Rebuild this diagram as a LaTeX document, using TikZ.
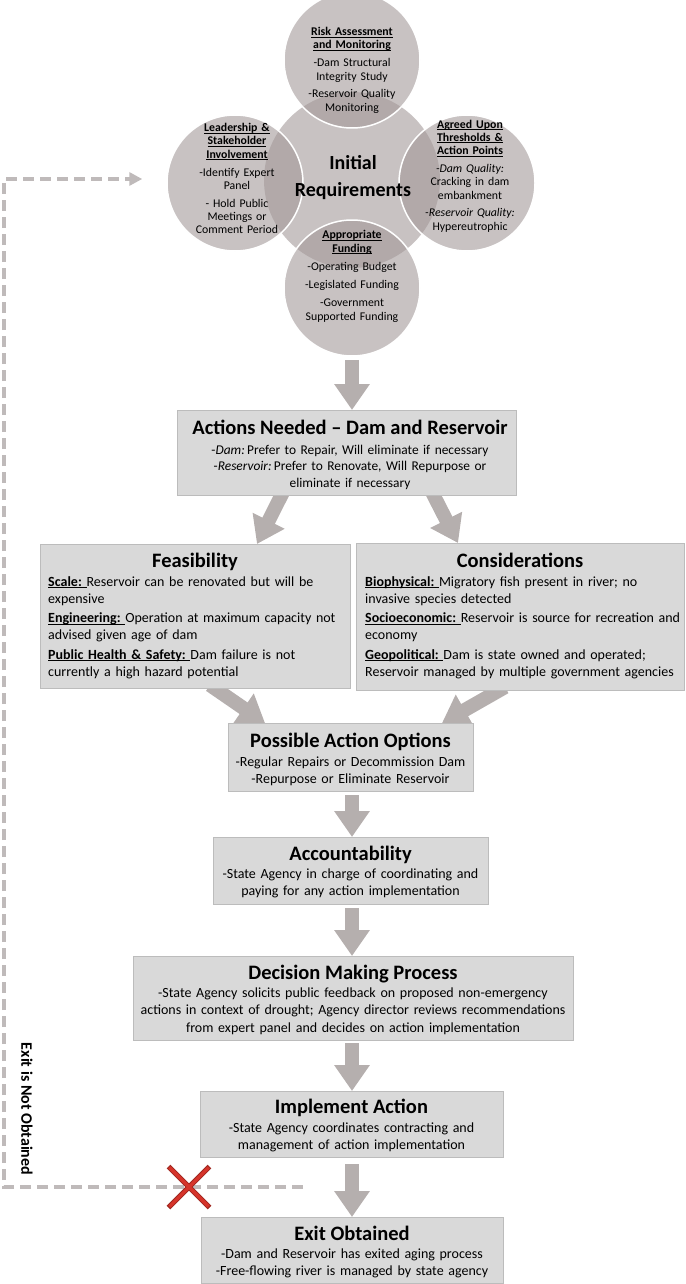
\documentclass[tikz,border=0pt]{standalone}
\usepackage{fontspec}
\setmainfont{Carlito}
\usetikzlibrary{arrows.meta,calc,backgrounds,shapes.misc}
\definecolor{boxfill}{RGB}{217,217,217}
\definecolor{boxline}{RGB}{188,188,188}
\definecolor{arrowgray}{RGB}{181,175,174}
\definecolor{circfill}{RGB}{163,153,153}
\definecolor{dashgray}{RGB}{191,186,186}
\definecolor{xred}{RGB}{214,52,42}
\definecolor{xdark}{RGB}{160,40,32}
\newcommand\mybody{\fontsize{14}{17.2}\selectfont}
\newcommand\myactbody{\fontsize{13.4}{16.5}\selectfont}
\newcommand\mytitle{\fontsize{20.5}{24}\selectfont\bfseries}
\newcommand\mycirc{\fontsize{11.8}{13.3}\selectfont}
\newcommand\ulb[1]{\leavevmode{\setbox0\hbox{\textbf{#1}}\rlap{\rule[-1.8pt]{\wd0}{0.8pt}}\box0}}
\begin{document}
\begin{tikzpicture}[x=1pt,y=-1pt,
  boxnode/.style={draw=boxline, fill=boxfill, line width=1.1pt, inner sep=0pt, anchor=north west},
  boxtitle/.style={inner sep=0pt, anchor=base, font=\mytitle},
  boxbody/.style={inner sep=0pt, anchor=base, text width=500pt, align=center, font=\mybody},
  leftbody/.style={inner sep=0pt, anchor=base west, text width=400pt, align=left, font=\mybody},
  circtext/.style={inner sep=0pt, anchor=base, text width=160pt, align=center, font=\mycirc},
  sat/.style={circle, minimum size=136pt, inner sep=0pt, fill=circfill, fill opacity=0.6, draw=white, line width=1.5pt},
  bigarrow/.style={draw=arrowgray, line width=14pt, -{Triangle[length=26pt,width=34pt]}},
  fbline/.style={draw=dashgray, line width=4pt, dash pattern=on 11pt off 6pt, -{Triangle[length=13pt,width=13pt]}},
]
\useasboundingbox (0,0) rectangle (685,1284);

% ---------- circles ----------
\node[circle, minimum size=176pt, inner sep=0pt, fill=circfill, fill opacity=0.6] (init) at (352,180) {};
\node[sat] (risk) at (352,60) {};
\node[sat] (lead) at (235,183) {};
\node[sat] (thr)  at (467,183) {};
\node[sat] (fund) at (352,288) {};

\node[inner sep=0pt, anchor=base, text width=200pt, align=center, font=\fontsize{20}{27}\selectfont\bfseries] (initt) at (353,169.8) {Initial\\ Requirements};
\node[circtext] (riskt) at (352,35.7) {\ulb{Risk Assessment}\\ \ulb{and Monitoring}\\[4.5pt] -Dam Structural\\ Integrity Study\\[4.5pt] -Reservoir Quality\\ Monitoring};
\node[circtext] (leadt) at (237,131.7) {\ulb{Leadership \&}\\ \ulb{Stakeholder}\\ \ulb{Involvement}\\[4.5pt] -Identify Expert\\ Panel\\[4.5pt] - Hold Public\\ Meetings or\\ Comment Period};
\node[circtext] (thrt) at (470,128.2) {\ulb{Agreed Upon}\\ \ulb{Thresholds \&}\\ \ulb{Action Points}\\[4.5pt] \textit{-Dam Quality:}\\ Cracking in dam\\ embankment\\[4.5pt] \textit{-Reservoir Quality:}\\ Hypereutrophic};
\node[circtext] (fundt) at (352,238.7) {\ulb{Appropriate}\\ \ulb{Funding}\\[5pt] -Operating Budget\\[5pt] -Legislated Funding\\[5pt] -Government\\ Supported Funding};

% ---------- boxes ----------
\node[boxnode, minimum width=339pt, minimum height=85pt] (act) at (177,410) {};
\node[boxnode, minimum width=310pt, minimum height=144pt] (feas) at (40,544) {};
\node[boxnode, minimum width=328pt, minimum height=147pt] (cons) at (356,543) {};
\node[boxnode, minimum width=245pt, minimum height=68pt] (poss) at (228,723) {};
\node[boxnode, minimum width=275pt, minimum height=67pt] (acc) at (213,837) {};
\node[boxnode, minimum width=440pt, minimum height=84pt] (dec) at (133,956) {};
\node[boxnode, minimum width=303pt, minimum height=66pt] (impl) at (200,1091) {};
\node[boxnode, minimum width=302pt, minimum height=66pt] (exitb) at (201,1217) {};

\node[boxtitle] (actt) at (350,434) {Actions Needed -- Dam and Reservoir};
\node[boxbody, font=\myactbody] (actb) at (350,454.3) {-\textit{Dam:}\,Prefer to Repair, Will eliminate if necessary\\ -\textit{Reservoir:}\,Prefer to Renovate, Will Repurpose or\\ eliminate if necessary};

\node[boxtitle] (feast) at (195,567.5) {Feasibility};
\node[leftbody] (feasb) at (48,586) {\ulb{Scale:~}Reservoir can be renovated but will be\\ expensive\\[2.2pt] \ulb{Engineering:~}Operation at maximum capacity not\\ advised given age of dam\\[2.2pt] \ulb{Public Health \& Safety:~}Dam failure is not\\ currently a high hazard potential};

\node[boxtitle] (const) at (520,567.5) {Considerations};
\node[leftbody] (consb) at (365,586) {\ulb{Biophysical:~}Migratory fish present in river; no\\ invasive species detected\\[2.2pt] \ulb{Socioeconomic:~}Reservoir is source for recreation and\\ economy\\[2.2pt] \ulb{Geopolitical:~}Dam is state owned and operated;\\ Reservoir managed by multiple government agencies};

\node[boxtitle] (posst) at (350.5,747.3) {Possible Action Options};
\node[boxbody] (possb) at (350.5,766) {-Regular Repairs or Decommission Dam\\ -Repurpose or Eliminate Reservoir};

\node[boxtitle] (acct) at (350.5,860.5) {Accountability};
\node[boxbody] (accb) at (350.5,878.3) {-State Agency in charge of coordinating and\\ paying for any action implementation};

\node[boxtitle] (dect) at (353,979) {Decision Making Process};
\node[boxbody] (decb) at (353,997.6) {-State Agency solicits public feedback on proposed non-emergency\\ actions in context of drought; Agency director reviews recommendations\\ from expert panel and decides on action implementation};

\node[boxtitle] (implt) at (351.5,1113.7) {Implement Action};
\node[boxbody] (implb) at (351.5,1132) {-State Agency coordinates contracting and\\ management of action implementation};

\node[boxtitle] (exitt) at (352,1240.3) {Exit Obtained};
\node[boxbody] (exitbt) at (352,1258.3) {-Dam and Reservoir has exited aging process\\ -Free-flowing river is managed by state agency};

% ---------- connectors ----------
\coordinate (axis) at (352,0);
\begin{pgfonlayer}{background}
\draw[bigarrow] ([yshift=-3pt]fund.south) -- (act.north -| axis);
\draw[bigarrow] ($(act.south west)+(106,-4)$) -- ($(feas.north west)+(217,0)$);
\draw[bigarrow] ($(act.south west)+(255,-4)$) -- ($(cons.north west)+(102,0)$);
\draw[bigarrow] ($(feas.south west)+(170,-4)$) -- ($(poss.north west)+(37,0)$);
\draw[bigarrow] ($(cons.south west)+(149,-4)$) -- ($(poss.north west)+(214,0)$);
\draw[bigarrow] ([yshift=-3pt]poss.south -| axis) -- (acc.north -| axis);
\draw[bigarrow] ([yshift=-3pt]acc.south -| axis) -- (dec.north -| axis);
\draw[bigarrow] ([yshift=-2pt]dec.south -| axis) -- (impl.north -| axis);
\draw[bigarrow] ([yshift=-6pt]impl.south -| axis) -- (exitb.north -| axis);
\end{pgfonlayer}

% ---------- feedback loop ----------
\coordinate (fbs) at (303,1187);
\coordinate (fbc) at (4,1187);
\draw[fbline] (fbs) -- (fbc) |- ([xshift=-24pt,yshift=4pt]lead.west);
\node[cross out, draw=xdark, line width=5pt, minimum size=36pt, inner sep=0pt] (xmark) at (189,1187) {};
\node[cross out, draw=xred, line width=3.2pt, minimum size=36pt, inner sep=0pt] (xmarkin) at (xmark) {};
\node[rotate=-90, inner sep=0pt, font=\fontsize{16}{18}\selectfont\bfseries] (exitno) at (27,1109) {Exit is Not Obtained};
\end{tikzpicture}
\end{document}
